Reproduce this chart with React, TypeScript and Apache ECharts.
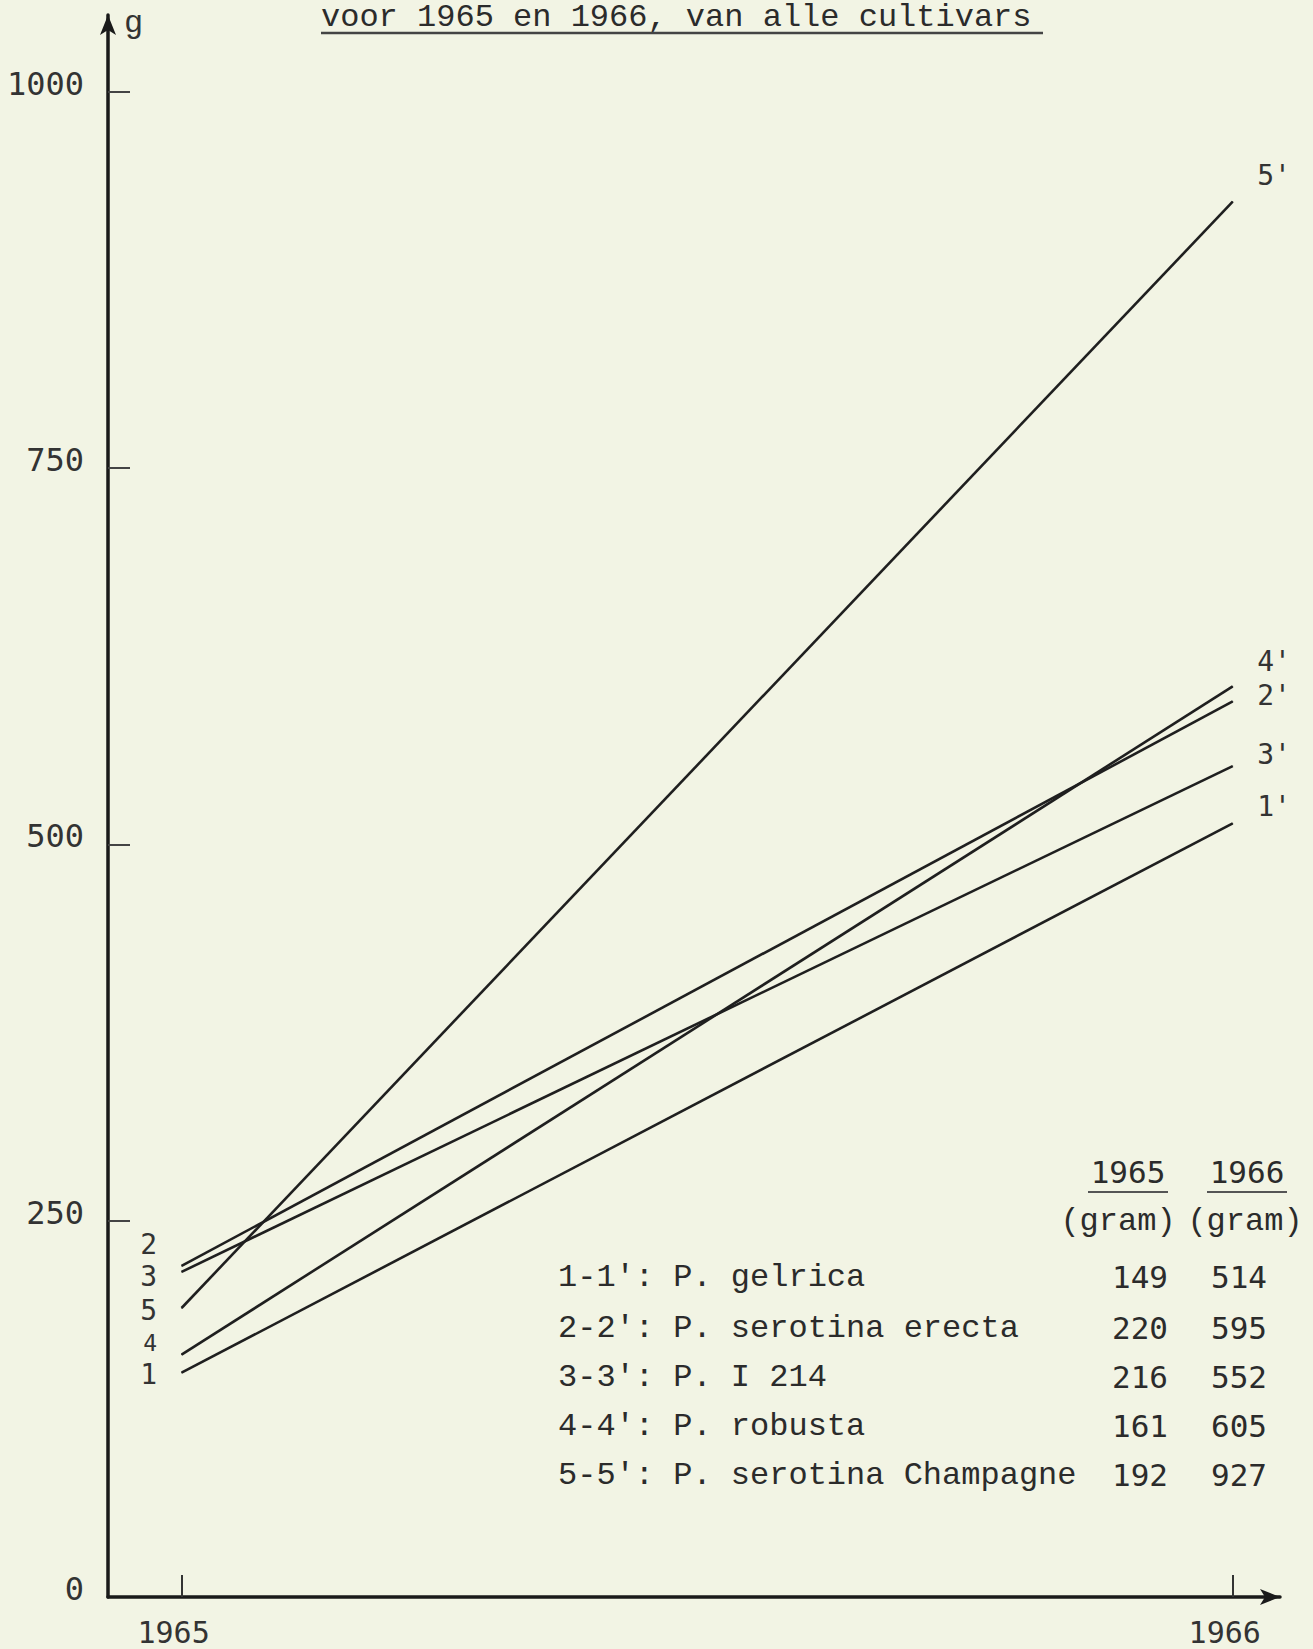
import React, { useEffect, useRef } from 'react';
import * as echarts from 'echarts';

// ---- data ----
const years = [1965, 1966];
const cultivarIds = ['1', '2', '3', '4', '5'];
const cultivarNames = [
  'P. gelrica',
  'P. serotina erecta',
  'P. I 214',
  'P. robusta',
  'P. serotina Champagne',
];
const weights1965 = [149, 220, 216, 161, 192];
const weights1966 = [514, 595, 552, 605, 927];
const yTickValues = [0, 250, 500, 750, 1000];
const titleText = 'voor 1965 en 1966, van alle cultivars';
const axisUnit = 'g';
const unitHeader = '(gram)';

const INK = '#1f1f1f';
const BG = '#f2f4e4';
const MONO = '"Liberation Mono", "DejaVu Sans Mono", monospace';
const DIGITS = '"DejaVu Sans Mono", "Liberation Mono", monospace';

export default function App() {
  const ref = useRef<HTMLDivElement>(null);

  useEffect(() => {
    document.body.style.margin = '0';
    document.body.style.background = BG;
    if (!ref.current) return;
    const chart = echarts.init(ref.current, undefined, { renderer: 'svg' });

    // label placement (style only)
    const startDy = [2, -21, 5, -12, 3];
    const startSize = [28, 28, 28, 23, 28];
    const endDy = [-17, -6, -12, -25, -26];

    const series = cultivarIds.map((id, i) => ({
      type: 'line',
      name: cultivarNames[i],
      symbol: 'circle',
      symbolSize: 1,
      showSymbol: true,
      itemStyle: { color: INK },
      lineStyle: { color: INK, width: 2.6 },
      data: [
        {
          value: [years[0], weights1965[i]],
          label: {
            show: true,
            position: 'left',
            distance: 24,
            offset: [0, startDy[i]],
            formatter: id,
            color: '#333',
            fontFamily: DIGITS,
            fontSize: startSize[i],
            lineHeight: startSize[i],
          },
        },
        {
          value: [years[1], weights1966[i]],
          label: {
            show: true,
            position: 'right',
            distance: 24,
            offset: [0, endDy[i]],
            formatter: id + "'",
            color: '#333',
            fontFamily: DIGITS,
            fontSize: 28,
            lineHeight: 26,
          },
        },
      ],
    }));

    const rowY = [1277, 1328, 1377, 1426, 1475];
    const tableTexts: any[] = [];
    cultivarIds.forEach((id, i) => {
      tableTexts.push({
        type: 'text',
        x: 558,
        y: rowY[i],
        style: {
          text: `${id}-${id}': ${cultivarNames[i]}`,
          font: `32px ${MONO}`,
          fill: '#2b2b2b',
          textAlign: 'left',
          textVerticalAlign: 'middle',
        },
      });
      tableTexts.push({
        type: 'text',
        x: 1168,
        y: rowY[i],
        style: {
          text: String(weights1965[i]),
          font: `31px ${DIGITS}`,
          fill: '#2b2b2b',
          textAlign: 'right',
          textVerticalAlign: 'middle',
        },
      });
      tableTexts.push({
        type: 'text',
        x: 1267,
        y: rowY[i],
        style: {
          text: String(weights1966[i]),
          font: `31px ${DIGITS}`,
          fill: '#2b2b2b',
          textAlign: 'right',
          textVerticalAlign: 'middle',
        },
      });
    });

    const headerCols = [1128, 1247];
    headerCols.forEach((cx, k) => {
      tableTexts.push({
        type: 'text',
        x: cx,
        y: 1172,
        style: {
          text: String(years[k]),
          font: `31px ${DIGITS}`,
          fill: '#2b2b2b',
          textAlign: 'center',
          textVerticalAlign: 'middle',
        },
      });
      tableTexts.push({
        type: 'line',
        shape: { x1: cx - 40, y1: 1192, x2: cx + 40, y2: 1192 },
        style: { stroke: '#555', lineWidth: 2 },
      });
      tableTexts.push({
        type: 'text',
        x: cx - 10 + k * 8,
        y: 1221,
        style: {
          text: unitHeader,
          font: `32px ${MONO}`,
          fill: '#2b2b2b',
          textAlign: 'center',
          textVerticalAlign: 'middle',
        },
      });
    });

    const option: any = {
      animation: false,
      backgroundColor: BG,
      grid: {
        left: 108,
        right: 33,
        top: 15,
        bottom: 52,
        containLabel: false,
        outerBoundsMode: 'none',
      },
      xAxis: {
        type: 'value',
        min: 1964.93,
        max: 1966.045,
        splitLine: { show: false },
        axisLine: {
          show: true,
          onZero: false,
          symbol: ['none', 'arrow'],
          symbolSize: [12, 20],
          lineStyle: { color: '#1a1a1a', width: 3.5 },
        },
        axisTick: {
          show: true,
          inside: true,
          length: 22,
          customValues: years,
          lineStyle: { color: '#333', width: 2 },
        },
        axisLabel: {
          customValues: years,
          margin: 20,
          color: '#333',
          fontFamily: DIGITS,
          fontSize: 30,
          padding: [0, 16, 0, 0],
          formatter: (v: number) => String(Math.round(v)),
        },
      },
      yAxis: {
        type: 'value',
        min: 0,
        max: 1051,
        name: axisUnit,
        nameLocation: 'end',
        nameGap: -8,
        nameTextStyle: {
          color: '#333',
          fontFamily: MONO,
          fontSize: 32,
          align: 'left',
          verticalAlign: 'middle',
          padding: [0, 0, 0, 16],
        },
        splitLine: { show: false },
        axisLine: {
          show: true,
          symbol: ['none', 'arrow'],
          symbolSize: [12, 20],
          lineStyle: { color: '#1a1a1a', width: 3.5 },
        },
        axisTick: {
          show: true,
          inside: true,
          length: 22,
          customValues: yTickValues.filter((v) => v > 0),
          lineStyle: { color: '#444', width: 2 },
        },
        axisLabel: {
          customValues: yTickValues,
          margin: 24,
          color: '#333',
          fontFamily: DIGITS,
          fontSize: 32,
          verticalAlign: 'bottom',
          lineHeight: 16,
          formatter: (v: number) => String(Math.round(v)),
        },
      },
      series,
      graphic: [
        {
          type: 'text',
          x: 321,
          y: 17,
          style: {
            text: titleText,
            font: `32px ${MONO}`,
            fill: '#2b2b2b',
            textAlign: 'left',
            textVerticalAlign: 'middle',
          },
        },
        {
          type: 'line',
          shape: { x1: 321, y1: 33, x2: 1043, y2: 33 },
          style: { stroke: '#444', lineWidth: 2.5 },
        },
        ...tableTexts,
      ],
    };

    chart.setOption(option);
    return () => chart.dispose();
  }, []);

  return (
    <div
      ref={ref}
      style={{ width: 1313, height: 1649, background: BG, position: 'absolute', left: 0, top: 0 }}
    />
  );
}
